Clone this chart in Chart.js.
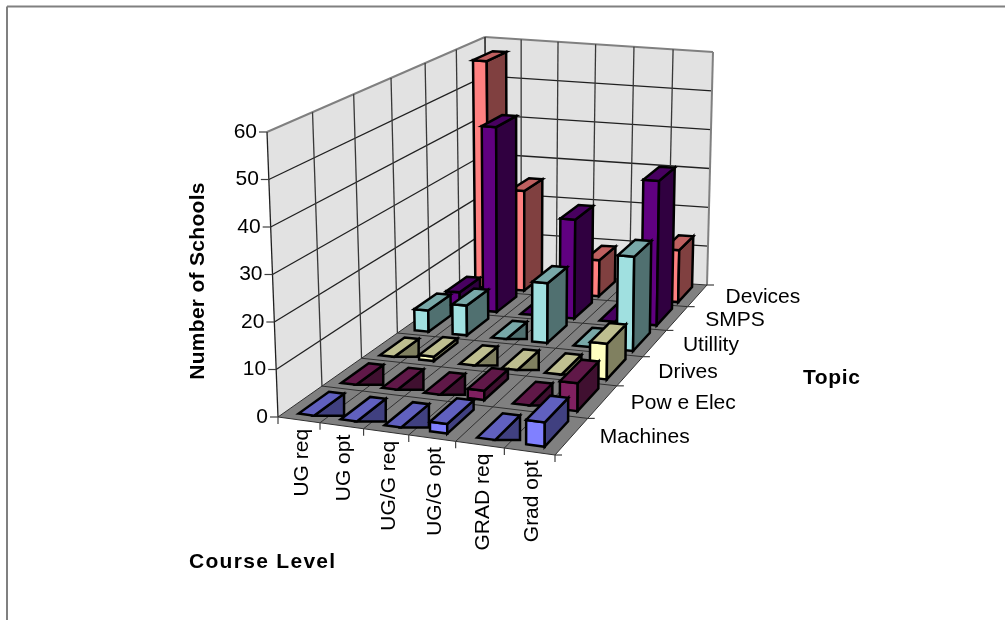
<!DOCTYPE html>
<html>
<head>
<meta charset="utf-8">
<style>html,body{margin:0;padding:0;background:#fff}canvas{display:block}</style>
<script src="https://cdn.jsdelivr.net/npm/chart.js@4/dist/chart.umd.min.js"></script>
</head>
<body>
<div style="width:1005px;height:620px"><canvas id="c" width="1005" height="620"></canvas></div>
<script>
const courseLevels = ['UG req', 'UG opt', 'UG/G req', 'UG/G opt', 'GRAD req', 'Grad opt'];
const topics = ['Machines', 'Pow e Elec', 'Drives', 'Utillity', 'SMPS', 'Devices'];
const yTicks = [0, 10, 20, 30, 40, 50, 60];

const machines  = [0, 0, 0, 2, 0, 5];
const powerElec = [0, 0, 0, 2, 0, 6];
const drives    = [0, 1, 0, 0, 0, 8];
const utility   = [5, 7, 0, 14, 0, 22];
const smps      = [4, 45, 0, 24, 0, 35];
const devices   = [57, 25, 0, 9, 0, 13];

const seriesValues = [machines, powerElec, drives, utility, smps, devices];
const seriesColors = ['#8080FF', '#802060', '#FFFFC0', '#A0E0E0', '#600080', '#FF8080'];

const FONT = '"Liberation Sans", Arial, sans-serif';

// Box corners on screen: floor plane and the plane through the top of the value axis.
const floorCorners = [[278, 417], [555, 455], [487, 270], [707, 285]];
const topCorners   = [[267, 132], [556, 160], [485, 37], [713, 52]];

function homography(c) {
  const [p00, p10, p01, p11] = c;
  const dx1 = p10[0] - p11[0], dy1 = p10[1] - p11[1];
  const dx2 = p01[0] - p11[0], dy2 = p01[1] - p11[1];
  const sx = p00[0] - p10[0] + p11[0] - p01[0], sy = p00[1] - p10[1] + p11[1] - p01[1];
  const d = dx1 * dy2 - dy1 * dx2;
  const g = (sx * dy2 - sy * dx2) / d, h = (dx1 * sy - dy1 * sx) / d;
  const a = p10[0] - p00[0] + g * p10[0], b = p01[0] - p00[0] + h * p01[0];
  const e = p10[1] - p00[1] + g * p10[1], f = p01[1] - p00[1] + h * p01[1];
  return (u, v) => {
    const w = g * u + h * v + 1;
    return [(a * u + b * v + p00[0]) / w, (e * u + f * v + p00[1]) / w];
  };
}
const onFloor = homography(floorCorners);
const onTop = homography(topCorners);

// u: across the categories, v: into the depth, t: fraction of the value axis.
function project(u, v, t) {
  const a = onFloor(u, v), b = onTop(u, v);
  return [a[0] + (b[0] - a[0]) * t, a[1] + (b[1] - a[1]) * t];
}

function poly(ctx, pts, fill, stroke, lw) {
  ctx.beginPath();
  pts.forEach((p, i) => i ? ctx.lineTo(p[0], p[1]) : ctx.moveTo(p[0], p[1]));
  ctx.closePath();
  if (fill) { ctx.fillStyle = fill; ctx.fill(); }
  if (stroke) { ctx.strokeStyle = stroke; ctx.lineWidth = lw; ctx.stroke(); }
}
function seg(ctx, a, b, stroke, lw) {
  ctx.beginPath();
  ctx.moveTo(a[0], a[1]);
  ctx.lineTo(b[0], b[1]);
  ctx.strokeStyle = stroke;
  ctx.lineWidth = lw;
  ctx.stroke();
}
function shade(hex, k) {
  const n = parseInt(hex.slice(1), 16);
  const c = [n >> 16, (n >> 8) & 255, n & 255].map(x => Math.round(x * k));
  return `rgb(${c[0]},${c[1]},${c[2]})`;
}
function label(ctx, text, x, y, font, align, rot, spacing) {
  ctx.save();
  ctx.translate(x, y);
  if (rot) ctx.rotate(rot);
  ctx.font = font;
  ctx.fillStyle = '#000';
  ctx.textAlign = align;
  ctx.textBaseline = 'middle';
  ctx.letterSpacing = (spacing || 0) + 'px';
  ctx.fillText(text, 0, 0);
  ctx.restore();
}

const box3d = {
  id: 'box3d',
  // The bars are drawn as projected boxes below, so the flat ones are skipped.
  beforeDatasetsDraw(chart) {
    const ctx = chart.ctx;
    const { x: xs, y: ys, depth: zs } = chart.scales;
    const area = chart.chartArea;
    const nx = courseLevels.length, nz = topics.length;
    const frac = value => (area.bottom - ys.getPixelForValue(value)) / (area.bottom - area.top);
    const uOf = i => (xs.getPixelForValue(i) - area.left) / (area.right - area.left);
    const vOf = j => (area.bottom - zs.getPixelForValue(j)) / (area.bottom - area.top);
    const cu = 1 / nx, cv = 1 / nz;
    const edge = 2.5;

    ctx.save();
    ctx.lineJoin = 'miter';

    // outer frame: left and top only
    seg(ctx, [7, 620], [7, 6.5], '#808080', 2);
    seg(ctx, [7, 6.5], [1005, 6.5], '#808080', 2);

    // walls and floor
    poly(ctx, [project(0, 0, 0), project(0, 1, 0), project(0, 1, 1), project(0, 0, 1)], '#E2E2E2');
    poly(ctx, [project(0, 1, 0), project(1, 1, 0), project(1, 1, 1), project(0, 1, 1)], '#E2E2E2');
    poly(ctx, [project(0, 0, 0), project(1, 0, 0), project(1, 1, 0), project(0, 1, 0)], '#808080');

    // gridlines
    ys.ticks.forEach(t => {
      const f = frac(t.value);
      const col = f === 1 ? '#808080' : '#202020';
      const lw = f === 1 ? 2 : 1.3;
      if (f > 0) {
        seg(ctx, project(0, 0, f), project(0, 1, f), col, lw);
        seg(ctx, project(0, 1, f), project(1, 1, f), col, lw);
      }
    });
    for (let i = 0; i <= nx; i++) {
      const u = i * cu;
      seg(ctx, project(u, 1, 0), project(u, 1, 1), i === nx ? '#808080' : '#383838', i === nx ? 2 : 1.3);
      seg(ctx, project(u, 0, 0), project(u, 1, 0), '#303030', 1);
    }
    for (let j = 0; j <= nz; j++) {
      const v = j * cv;
      seg(ctx, project(0, v, 0), project(0, v, 1), j === 0 ? '#202020' : '#383838', 1.3);
      seg(ctx, project(0, v, 0), project(1, v, 0), '#303030', 1);
    }

    // tick marks and labels on the value axis
    ys.ticks.forEach(t => {
      const p = project(0, 0, frac(t.value));
      seg(ctx, p, [p[0] - 8, p[1]], '#404040', 1.2);
      label(ctx, String(t.value), p[0] - 10, p[1], '21px ' + FONT, 'right');
    });
    // tick marks along the two floor edges
    for (let i = 0; i <= nx; i++) {
      const p = project(i * cu, 0, 0);
      seg(ctx, p, [p[0], p[1] + 7], '#404040', 1.2);
    }
    for (let j = 0; j <= nz; j++) {
      const p = project(1, j * cv, 0);
      seg(ctx, p, [p[0] + 7, p[1]], '#404040', 1.2);
    }

    // boxes, back row first and left to right inside each row
    for (let j = nz - 1; j >= 0; j--) {
      const ds = chart.data.datasets[j];
      const color = ds.backgroundColor;
      const front = color, top = shade(color, 0.75), side = shade(color, 0.5);
      const v0 = vOf(j) - 0.34 * cv, v1 = vOf(j) + 0.36 * cv;
      for (let i = 0; i < nx; i++) {
        const value = ds.data[i];
        const t = frac(value);
        const u0 = uOf(i) - 0.18 * cu, u1 = uOf(i) + 0.19 * cu;
        if (value === 0) {
          // empty cell: flat plate with a small wedge on its right edge
          const fl = project(u0, v0, 0), fr = project(u1, v0, 0);
          const br = project(u1, v1, 0), bl = project(u0, v1, 0);
          poly(ctx, [fr, br, [br[0], fr[1]]], side, '#000', edge);
          poly(ctx, [fl, fr, br, bl], top, '#000', edge);
          continue;
        }
        const a = project(u0, v0, 0), b = project(u1, v0, 0);
        const c = project(u1, v0, t), d = project(u0, v0, t);
        const e = project(u1, v1, 0), f = project(u1, v1, t), g = project(u0, v1, t);
        poly(ctx, [a, b, c, d], front, '#000', edge);
        poly(ctx, [b, e, f, c], side, '#000', edge);
        poly(ctx, [d, c, f, g], top, '#000', edge);
      }
    }

    // category labels follow the front floor edge
    courseLevels.forEach((name, i) => {
      const p = project(uOf(i), 0, 0);
      label(ctx, name, p[0] + 3, p[1] + 9, '21px ' + FONT, 'right', -Math.PI / 2);
    });
    // topic labels follow the right floor edge
    topics.forEach((name, j) => {
      const p = project(1, vOf(j), 0);
      label(ctx, name, p[0] + 28, p[1] + 1.5, '21px ' + FONT, 'left');
    });

    // axis titles
    const bold = 'bold 21px ' + FONT;
    label(ctx, 'Number of Schools', 198, 281, bold, 'center', -Math.PI / 2, 0.3);
    label(ctx, 'Course Level', 189, 562, bold, 'left', 0, 1.3);
    label(ctx, 'Topic', 803, 378, bold, 'left', 0, 0.6);

    ctx.restore();
    return false;
  }
};

new Chart(document.getElementById('c'), {
  type: 'bar',
  data: {
    labels: courseLevels,
    datasets: topics.map((name, j) => ({
      label: name,
      data: seriesValues[j],
      backgroundColor: seriesColors[j]
    }))
  },
  options: {
    responsive: false,
    animation: false,
    layout: { padding: { left: 278, right: 450, top: 132, bottom: 203 } },
    plugins: { legend: { display: false }, tooltip: { enabled: false }, title: { display: false } },
    scales: {
      x: { type: 'category', display: false, offset: true },
      y: {
        type: 'linear', display: false, min: 0, max: 60,
        afterBuildTicks(scale) { scale.ticks = yTicks.map(value => ({ value })); }
      },
      depth: { type: 'category', axis: 'y', labels: topics, display: false, offset: true, reverse: true }
    }
  },
  plugins: [box3d]
});
</script>
</body>
</html>
